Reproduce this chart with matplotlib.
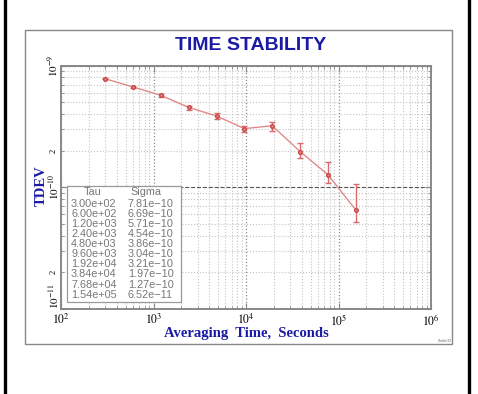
import matplotlib
matplotlib.use("Agg")
import matplotlib.pyplot as plt
from matplotlib.ticker import FixedLocator, FixedFormatter, NullFormatter
from matplotlib.lines import Line2D
from matplotlib.patches import Rectangle

# data
tau = [300, 600, 1200, 2400, 4800, 9600, 19200, 38400, 76800, 154000]
sigma = [7.81e-10, 6.69e-10, 5.71e-10, 4.54e-10, 3.86e-10,
         3.04e-10, 3.21e-10, 1.97e-10, 1.27e-10, 6.52e-11]
sigma_lo = [7.72e-10, 6.58e-10, 5.57e-10, 4.35e-10, 3.65e-10,
            2.87e-10, 2.92e-10, 1.73e-10, 1.08e-10, 5.22e-11]
sigma_hi = [7.90e-10, 6.80e-10, 5.85e-10, 4.66e-10, 4.06e-10,
            3.21e-10, 3.47e-10, 2.30e-10, 1.63e-10, 1.06e-10]

xticks = [1e2, 1e3, 1e4, 1e5, 1e6]
xticklabels = [r"$10^2$", r"$10^3$", r"$10^4$", r"$10^5$", r"$10^6$"]
yticks = [1e-11, 2e-11, 1e-10, 2e-10, 1e-9]
yticklabels = [r"$10^{-11}$", "2", r"$10^{-10}$", "2", r"$10^{-9}$"]

W, H = 478, 394
plt.rcParams["mathtext.fontset"] = "stix"
plt.rcParams["font.family"] = "Liberation Serif"

BLUE = "#1a1aa6"
GRAY = "#777777"


def px(x, y):
    return x / W, 1 - y / H


fig = plt.figure(figsize=(W / 100, H / 100), dpi=100)
fig.patch.set_facecolor("white")

# outer frame and side rules
fig.add_artist(Rectangle(px(25, 344), (452 - 25) / W, (344 - 30) / H,
                         transform=fig.transFigure, fill=False,
                         edgecolor="#888888", lw=1.0))
for xx in (4.5, 469):
    fig.add_artist(Line2D([xx / W, xx / W], [0, 1], transform=fig.transFigure,
                          color="black", lw=2.4))

l, b = px(61, 309)
r, t = px(431, 65.7)
ax = fig.add_axes([l, b, r - l, t - b])

yerr = [[s - lo for s, lo in zip(sigma, sigma_lo)],
        [hi - s for s, hi in zip(sigma, sigma_hi)]]
ax.errorbar(tau, sigma, yerr=yerr, color="#e08a8a", lw=1.0,
            ecolor="#d86a6a", elinewidth=1.0, capsize=2, capthick=1.0,
            marker="o", ms=2.6, mfc="#e08a8a", mec="#c84848", zorder=3)

ax.set_xscale("log")
ax.set_yscale("log")
ax.set_xlim(1e2, 1e6)
ax.set_ylim(1e-11, 1e-9)

ax.xaxis.set_major_locator(FixedLocator(xticks))
ax.xaxis.set_major_formatter(FixedFormatter(xticklabels))
ax.xaxis.set_minor_formatter(NullFormatter())
ax.yaxis.set_major_locator(FixedLocator([1e-11, 1e-10, 1e-9]))
ax.yaxis.set_major_formatter(NullFormatter())
ax.yaxis.set_minor_formatter(NullFormatter())

ax.grid(True, which="minor", axis="both", linestyle=":", color="#c4c4c4", lw=0.8)
ax.grid(True, which="major", axis="x", linestyle=":", color="#8a8a8a", lw=0.9)
ax.grid(True, which="major", axis="y", linestyle="--", color="#555555", lw=0.8)

ax.tick_params(which="both", direction="in", top=True, right=True,
               color="#888888", labelsize=8.5, pad=3)
ax.tick_params(which="major", length=4)
ax.tick_params(which="minor", length=2.5)
for s in ax.spines.values():
    s.set_color("#888888")
    s.set_linewidth(1.4)

# y tick labels, rotated like the original
for v, lab in zip(yticks, yticklabels):
    va = "bottom" if v == yticks[0] else "center"
    ax.text(-0.02, v, lab, transform=ax.get_yaxis_transform(),
            rotation=90, ha="center", va=va,
            fontsize=8 if lab != "2" else 6)

fig.text(*px(251, 46), "TIME STABILITY", ha="center", va="center",
         fontsize=14, fontweight="bold", color=BLUE, family="Liberation Sans")
fig.text(*px(246, 334), "Averaging  Time,  Seconds", ha="center", va="center",
         fontsize=10.5, fontweight="bold", color=BLUE)
fig.text(*px(41, 186), "TDEV", ha="center", va="center", rotation=90,
         fontsize=10.5, fontweight="bold", color=BLUE)

# tau / sigma table
fig.add_artist(Rectangle(px(67, 302), (181 - 67) / W, (302 - 186) / H,
                         transform=fig.transFigure, facecolor="white",
                         edgecolor="#999999", lw=0.9, zorder=5))
fig.text(*px(93, 192), "Tau", ha="center", va="center", fontsize=7.8,
         color=GRAY, family="Liberation Sans", zorder=6)
fig.text(*px(146, 192), "Sigma", ha="center", va="center", fontsize=7.8,
         color=GRAY, family="Liberation Sans", zorder=6)
for i, (tv, sv) in enumerate(zip(tau, sigma)):
    yy = 203.7 + i * 10.1
    fig.text(*px(71, yy), "%.2e" % tv, ha="left", va="center", fontsize=7.8,
             color=GRAY, family="Liberation Sans", zorder=6)
    fig.text(*px(128, yy), ("%.2e" % sv).replace("-", "\u2212"), ha="left",
             va="center", fontsize=7.8, color=GRAY, family="Liberation Sans",
             zorder=6)

fig.text(*px(445, 341), "Stable32", ha="center", va="center", fontsize=2.5,
         color="#666666", family="Liberation Sans")

fig.savefig("out.png", dpi=100)
